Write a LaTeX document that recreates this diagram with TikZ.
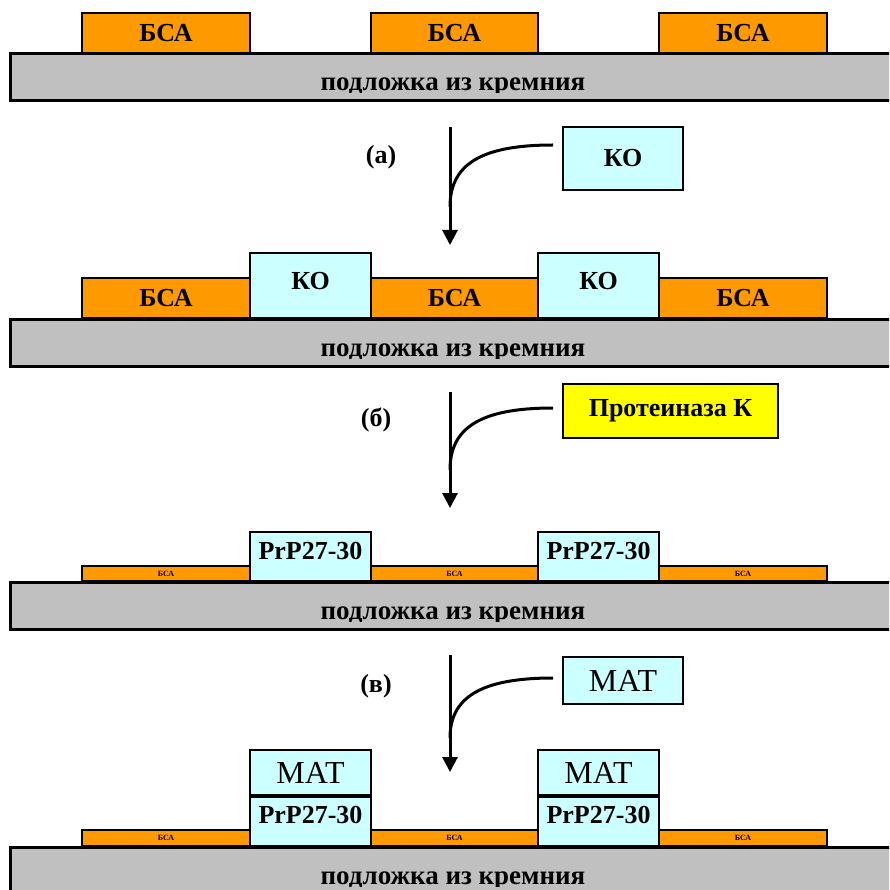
\documentclass[tikz,border=0pt]{standalone}
\usepackage{fontspec}
\setmainfont{Liberation Serif}
\usetikzlibrary{arrows.meta}
\definecolor{bsaorange}{HTML}{FF9900}
\definecolor{kocyan}{HTML}{CCFFFF}
\definecolor{sigray}{HTML}{C0C0C0}
\definecolor{pkyellow}{HTML}{FFFF00}

\begin{document}
\begin{tikzpicture}[x=1pt,y=-1pt,>={Triangle[length=15pt,width=15pt]},
		layer/.style={draw,line width=2pt,inner sep=0pt,font=\bfseries\fontsize{26}{26}\selectfont},
		bsa/.style={layer,fill=bsaorange,anchor=south west,minimum height=40},
		bsathin/.style={layer,fill=bsaorange,anchor=south west,minimum height=15,font=\bfseries\fontsize{8}{8}\selectfont},
		ko/.style={layer,fill=kocyan,anchor=south west,minimum width=121},
		mat/.style={ko,font=\fontsize{32}{32}\selectfont},
		reagent/.style={layer,anchor=north west},
		subst/.style={draw,line width=3pt,fill=sigray},
		substtext/.style={anchor=base,font=\bfseries\fontsize{27}{27}\selectfont},
		steplabel/.style={font=\bfseries\fontsize{26}{26}\selectfont},
		flow/.style={line width=3pt}]
		\clip (0,0) rectangle (889,890);
		\foreach \y/\n in {54/1,319/2,582/3,847/4}{
			\draw[subst] (10,\y) rectangle (905,\y+47);
			\begin{scope}
				\clip (10,\y) rectangle (905,\y+39);
				\node[substtext] (s\n) at (453,\y+37) {подложка из кремния};
			\end{scope}
		}
		% (0)
		\node[bsa,minimum width=168] (b11) at (81,54) {БСА};
		\node[bsa,minimum width=167] (b12) at (370,54) {БСА};
		\node[bsa,minimum width=168] (b13) at (658,54) {БСА};
		% (a)
		\node[reagent,fill=kocyan,minimum width=120,minimum height=63] (ko) at (562,126) {КО};
		\node[steplabel] (la) at (381,157) {(а)};
		\coordinate (a1) at (450,127);
		\coordinate (a2) at (450,245);
		\coordinate (j1) at (450,207);
		\coordinate (e1) at (553,145);
		\draw[flow,->] (a1) -- (a2);
		\draw[flow] (j1) .. controls (450,165) and (480,145) .. (e1);
		\node[bsa,minimum width=168] (b21) at (81,319) {БСА};
		\node[bsa,minimum width=167] (b22) at (370,319) {БСА};
		\node[bsa,minimum width=168] (b23) at (658,319) {БСА};
		\node[ko,text height=36,text depth=29] (k21) at (249,319) {КО};
		\node[ko,text height=36,text depth=29] (k22) at (537,319) {КО};
		% (б)
		\node[reagent,fill=pkyellow,minimum width=215,minimum height=54] (pk) at (562,383) {Протеиназа К};
		\node[steplabel] (lb) at (376,420) {(б)};
		\coordinate (a3) at (450,392);
		\coordinate (a4) at (450,508);
		\coordinate (j2) at (450,470);
		\coordinate (e2) at (553,408);
		\draw[flow,->] (a3) -- (a4);
		\draw[flow] (j2) .. controls (450,428) and (480,408) .. (e2);
		\node[bsathin,minimum width=168] (t31) at (81,582) {БСА};
		\node[bsathin,minimum width=167] (t32) at (370,582) {БСА};
		\node[bsathin,minimum width=168] (t33) at (658,582) {БСА};
		\node[ko,text height=27,text depth=22] (p31) at (249,582) {PrP27-30};
		\node[ko,text height=27,text depth=22] (p32) at (537,582) {PrP27-30};
		% (в)
		\node[reagent,fill=kocyan,minimum width=120,minimum height=47,font=\fontsize{32}{32}\selectfont] (ab) at (562,656) {МАТ};
		\node[steplabel] (lc) at (376,686) {(в)};
		\coordinate (a5) at (450,655);
		\coordinate (a6) at (450,772);
		\coordinate (j3) at (450,738);
		\coordinate (e3) at (553,678);
		\draw[flow,->] (a5) -- (a6);
		\draw[flow] (j3) .. controls (450,698) and (480,678) .. (e3);
		\node[bsathin,minimum width=168,minimum height=16] (t41) at (81,847) {БСА};
		\node[bsathin,minimum width=167,minimum height=16] (t42) at (370,847) {БСА};
		\node[bsathin,minimum width=168,minimum height=16] (t43) at (658,847) {БСА};
		\node[ko,text height=26,text depth=23] (p41) at (249,847) {PrP27-30};
		\node[ko,text height=26,text depth=23] (p42) at (537,847) {PrP27-30};
		\node[mat,minimum height=45] (m41) at (p41.north west) {МАТ};
		\node[mat,minimum height=45] (m42) at (p42.north west) {МАТ};
	\end{tikzpicture}
\end{document}
